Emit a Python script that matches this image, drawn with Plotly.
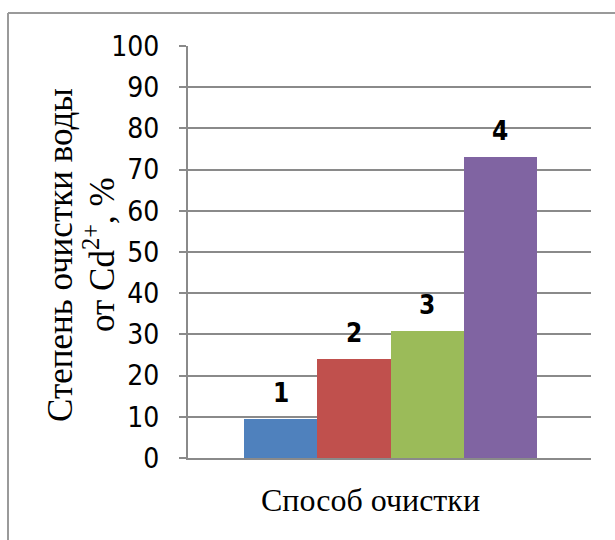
import plotly.graph_objects as go

# Cd2+ removal efficiency by treatment method
methods = ["1", "2", "3", "4"]
removal_pct = [9.4, 24.1, 30.9, 73.0]
bar_colors = ["#4F81BD", "#C0504D", "#9BBB59", "#8064A2"]
y_ticks = [0, 10, 20, 30, 40, 50, 60, 70, 80, 90, 100]

W, H = 615, 540
L, R, T, B = 188, 24, 46, 82
pw, ph = W - L - R, H - T - B


def px_x(x):
    return (x - L) / pw


def px_y(y):
    return (H - B - y) / ph


AXIS_GRAY = "#8a8a8a"
SANS = "Liberation Sans Narrow, Arial Narrow, DejaVu Sans Condensed, sans-serif"
SERIF = "Liberation Serif, Times New Roman, serif"

fig = go.Figure()
for m, v, c in zip(methods, removal_pct, bar_colors):
    fig.add_trace(go.Bar(x=[m], y=[v], marker=dict(color=c, line=dict(width=0)),
                         showlegend=False, hoverinfo="skip"))

# bold method numbers above each bar (category index on the x axis)
for i, (m, v) in enumerate(zip(methods, removal_pct)):
    fig.add_annotation(x=i, y=v, text="<b>%s</b>" % m, showarrow=False,
                       yanchor="middle", yshift=26,
                       font=dict(family=SANS, size=26, color="#000000"))

# axis titles
fig.add_annotation(xref="paper", yref="paper", x=px_x(370), y=px_y(500),
                   text="Способ очистки", showarrow=False,
                   xanchor="center", yanchor="middle",
                   font=dict(family=SERIF, size=32, color="#000000"))
fig.add_annotation(xref="paper", yref="paper", x=px_x(60), y=px_y(255),
                   text="Степень очистки воды", showarrow=False, textangle=-90,
                   xanchor="center", yanchor="middle",
                   font=dict(family=SERIF, size=35, color="#000000"))
fig.add_annotation(xref="paper", yref="paper", x=px_x(99), y=px_y(255),
                   text="от Cd<sup>2+</sup>, %", showarrow=False, textangle=-90,
                   xanchor="center", yanchor="middle",
                   font=dict(family=SERIF, size=35, color="#000000"))

# chart area border (left and top edges)
fig.add_shape(type="line", xref="paper", yref="paper",
              x0=px_x(8), x1=px_x(8), y0=px_y(13), y1=px_y(560),
              line=dict(color="#9a9a9a", width=2))
fig.add_shape(type="line", xref="paper", yref="paper",
              x0=px_x(8), x1=px_x(640), y0=px_y(13), y1=px_y(13),
              line=dict(color="#9a9a9a", width=2))

fig.update_layout(
    width=W, height=H,
    margin=dict(l=L, r=R, t=T, b=B, pad=0),
    paper_bgcolor="#ffffff", plot_bgcolor="#ffffff",
    barmode="group", bargap=0, bargroupgap=0,
    showlegend=False,
    xaxis=dict(type="category", categoryorder="array", categoryarray=methods,
               range=[-1.27, 4.24], showticklabels=False, ticks="",
               showgrid=False, zeroline=False,
               showline=True, linecolor=AXIS_GRAY, linewidth=2),
    yaxis=dict(range=[0, 100], tickvals=y_ticks, ticks="outside", ticklen=7,
               tickcolor=AXIS_GRAY, tickwidth=2,
               showline=True, linecolor=AXIS_GRAY, linewidth=2,
               showgrid=True, gridcolor=AXIS_GRAY, gridwidth=1.8,
               zeroline=False, ticklabelstandoff=14,
               tickfont=dict(family=SANS, size=28, color="#000000")),
)

fig.write_html("out.html")
